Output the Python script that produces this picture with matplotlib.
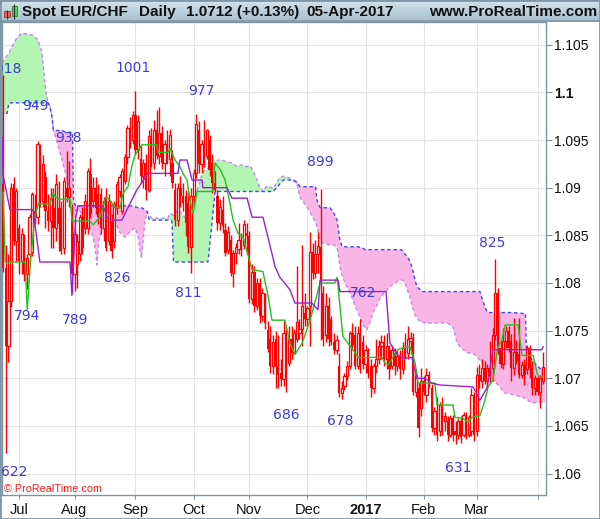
import numpy as np
import pandas as pd
import matplotlib
matplotlib.use('Agg')
import matplotlib.pyplot as plt
from matplotlib.patches import Rectangle
from matplotlib.colors import LinearSegmentedColormap

plt.rcParams['font.family'] = ['Liberation Sans', 'DejaVu Sans']

# daily bars, Spot EUR/CHF
dates = pd.bdate_range('2016-06-23', '2017-04-05')

opens = [1.0904, 1.0816, 1.0734, 1.0781, 1.0904, 1.0844, 1.0858, 1.0823, 1.0837, 1.0809,
         1.0830, 1.0832, 1.0876, 1.0869, 1.0940, 1.0886, 1.0911, 1.0876, 1.0865, 1.0879,
         1.0858, 1.0879, 1.0879, 1.0837, 1.0900, 1.0890, 1.0876, 1.0809, 1.0820, 1.0830,
         1.0869, 1.0858, 1.0858, 1.0914, 1.0886, 1.0900, 1.0893, 1.0893, 1.0858, 1.0890,
         1.0844, 1.0865, 1.0844, 1.0879, 1.0897, 1.0876, 1.0907, 1.0932, 1.0963, 1.0950,
         1.0976, 1.0940, 1.0930, 1.0912, 1.0926, 1.0898, 1.0954, 1.0926, 1.0960, 1.0933,
         1.0957, 1.0926, 1.0946, 1.0930, 1.0926, 1.0898, 1.0866, 1.0900, 1.0891, 1.0891,
         1.0884, 1.0838, 1.0891, 1.0915, 1.0960, 1.0925, 1.0946, 1.0933, 1.0950, 1.0926,
         1.0905, 1.0891, 1.0863, 1.0877, 1.0856, 1.0835, 1.0845, 1.0810, 1.0831, 1.0836,
         1.0845, 1.0840, 1.0852, 1.0849, 1.0783, 1.0812, 1.0776, 1.0800, 1.0765, 1.0785,
         1.0751, 1.0741, 1.0713, 1.0741, 1.0713, 1.0706, 1.0699, 1.0748, 1.0716, 1.0741,
         1.0727, 1.0741, 1.0748, 1.0752, 1.0769, 1.0762, 1.0776, 1.0832, 1.0810, 1.0830,
         1.0838, 1.0790, 1.0745, 1.0776, 1.0762, 1.0738, 1.0730, 1.0713, 1.0685, 1.0692,
         1.0702, 1.0713, 1.0748, 1.0745, 1.0713, 1.0748, 1.0738, 1.0715, 1.0727, 1.0713,
         1.0690, 1.0713, 1.0720, 1.0734, 1.0738, 1.0720, 1.0730, 1.0713, 1.0727, 1.0713,
         1.0723, 1.0710, 1.0732, 1.0727, 1.0739, 1.0742, 1.0686, 1.0690, 1.0669, 1.0697,
         1.0683, 1.0704, 1.0690, 1.0648, 1.0666, 1.0645, 1.0669, 1.0655, 1.0655, 1.0641,
         1.0658, 1.0645, 1.0641, 1.0655, 1.0641, 1.0660, 1.0641, 1.0645, 1.0683, 1.0645,
         1.0704, 1.0697, 1.0711, 1.0697, 1.0711, 1.0711, 1.0745, 1.0790, 1.0732, 1.0715,
         1.0739, 1.0750, 1.0739, 1.0711, 1.0728, 1.0725, 1.0704, 1.0714, 1.0710, 1.0732,
         1.0711, 1.0690, 1.0700, 1.0686, 1.0697]
highs = [1.1018, 1.0840, 1.0830, 1.0905, 1.0911, 1.0900, 1.0862, 1.0858, 1.0851, 1.0830,
         1.0872, 1.0895, 1.0893, 1.0949, 1.0946, 1.0934, 1.0918, 1.0893, 1.0900, 1.0900,
         1.0914, 1.0907, 1.0886, 1.0911, 1.0938, 1.0928, 1.0883, 1.0858, 1.0851, 1.0872,
         1.0880, 1.0893, 1.0921, 1.0931, 1.0911, 1.0911, 1.0904, 1.0900, 1.0890, 1.0900,
         1.0893, 1.0872, 1.0886, 1.0907, 1.0914, 1.0921, 1.0935, 1.0966, 1.0974, 1.0980,
         1.1001, 1.0976, 1.0945, 1.0930, 1.0935, 1.0960, 1.0963, 1.0971, 1.0982, 1.0985,
         1.0965, 1.0950, 1.0960, 1.0962, 1.0940, 1.0905, 1.0905, 1.0912, 1.0905, 1.0898,
         1.0895, 1.0900, 1.0920, 1.0977, 1.0970, 1.0950, 1.0971, 1.0962, 1.0955, 1.0935,
         1.0918, 1.0898, 1.0888, 1.0891, 1.0863, 1.0860, 1.0850, 1.0835, 1.0842, 1.0863,
         1.0852, 1.0866, 1.0863, 1.0855, 1.0820, 1.0818, 1.0805, 1.0805, 1.0795, 1.0790,
         1.0760, 1.0755, 1.0745, 1.0750, 1.0745, 1.0720, 1.0760, 1.0752, 1.0755, 1.0755,
         1.0752, 1.0818, 1.0762, 1.0840, 1.0790, 1.0776, 1.0853, 1.0842, 1.0845, 1.0853,
         1.0899, 1.0797, 1.0790, 1.0785, 1.0765, 1.0748, 1.0745, 1.0727, 1.0697, 1.0706,
         1.0718, 1.0750, 1.0758, 1.0755, 1.0755, 1.0762, 1.0745, 1.0735, 1.0732, 1.0720,
         1.0716, 1.0741, 1.0740, 1.0745, 1.0745, 1.0748, 1.0735, 1.0735, 1.0732, 1.0730,
         1.0730, 1.0738, 1.0748, 1.0755, 1.0749, 1.0748, 1.0710, 1.0695, 1.0711, 1.0702,
         1.0711, 1.0708, 1.0694, 1.0670, 1.0680, 1.0675, 1.0680, 1.0665, 1.0660, 1.0662,
         1.0662, 1.0655, 1.0658, 1.0660, 1.0665, 1.0665, 1.0662, 1.0690, 1.0686, 1.0712,
         1.0715, 1.0720, 1.0718, 1.0715, 1.0739, 1.0753, 1.0825, 1.0795, 1.0740, 1.0753,
         1.0755, 1.0755, 1.0746, 1.0763, 1.0740, 1.0763, 1.0718, 1.0720, 1.0735, 1.0735,
         1.0718, 1.0704, 1.0702, 1.0704, 1.0728]
lows = [1.0812, 1.0622, 1.0717, 1.0775, 1.0840, 1.0823, 1.0809, 1.0809, 1.0802, 1.0794,
        1.0826, 1.0828, 1.0862, 1.0862, 1.0880, 1.0880, 1.0858, 1.0855, 1.0837, 1.0837,
        1.0844, 1.0834, 1.0830, 1.0830, 1.0885, 1.0880, 1.0789, 1.0792, 1.0795, 1.0823,
        1.0830, 1.0851, 1.0851, 1.0868, 1.0880, 1.0872, 1.0862, 1.0851, 1.0844, 1.0834,
        1.0840, 1.0826, 1.0837, 1.0872, 1.0890, 1.0872, 1.0904, 1.0925, 1.0942, 1.0946,
        1.0935, 1.0930, 1.0905, 1.0900, 1.0887, 1.0895, 1.0922, 1.0920, 1.0930, 1.0925,
        1.0920, 1.0912, 1.0925, 1.0912, 1.0900, 1.0860, 1.0860, 1.0880, 1.0876, 1.0849,
        1.0831, 1.0811, 1.0880, 1.0910, 1.0915, 1.0915, 1.0922, 1.0930, 1.0912, 1.0894,
        1.0895, 1.0856, 1.0856, 1.0852, 1.0828, 1.0830, 1.0807, 1.0796, 1.0820, 1.0830,
        1.0828, 1.0836, 1.0830, 1.0779, 1.0778, 1.0770, 1.0772, 1.0758, 1.0760, 1.0752,
        1.0728, 1.0706, 1.0705, 1.0690, 1.0690, 1.0692, 1.0692, 1.0686, 1.0713, 1.0720,
        1.0725, 1.0738, 1.0741, 1.0734, 1.0755, 1.0755, 1.0734, 1.0804, 1.0805, 1.0810,
        1.0740, 1.0734, 1.0738, 1.0734, 1.0735, 1.0725, 1.0725, 1.0680, 1.0678, 1.0688,
        1.0698, 1.0710, 1.0730, 1.0710, 1.0710, 1.0706, 1.0710, 1.0706, 1.0700, 1.0680,
        1.0685, 1.0706, 1.0715, 1.0720, 1.0713, 1.0710, 1.0699, 1.0710, 1.0703, 1.0708,
        1.0699, 1.0705, 1.0720, 1.0720, 1.0725, 1.0682, 1.0680, 1.0638, 1.0660, 1.0683,
        1.0675, 1.0690, 1.0644, 1.0641, 1.0634, 1.0640, 1.0641, 1.0645, 1.0634, 1.0638,
        1.0634, 1.0631, 1.0636, 1.0632, 1.0638, 1.0636, 1.0638, 1.0640, 1.0634, 1.0640,
        1.0690, 1.0690, 1.0694, 1.0692, 1.0695, 1.0697, 1.0740, 1.0725, 1.0711, 1.0710,
        1.0732, 1.0728, 1.0697, 1.0704, 1.0715, 1.0700, 1.0700, 1.0693, 1.0705, 1.0700,
        1.0683, 1.0683, 1.0683, 1.0669, 1.0694]
closes = [1.0816, 1.0734, 1.0781, 1.0900, 1.0844, 1.0897, 1.0823, 1.0851, 1.0809, 1.0826,
          1.0869, 1.0893, 1.0869, 1.0946, 1.0886, 1.0925, 1.0876, 1.0865, 1.0889, 1.0858,
          1.0904, 1.0862, 1.0834, 1.0907, 1.0890, 1.0900, 1.0809, 1.0851, 1.0844, 1.0869,
          1.0837, 1.0886, 1.0918, 1.0872, 1.0900, 1.0879, 1.0869, 1.0858, 1.0886, 1.0837,
          1.0886, 1.0834, 1.0883, 1.0904, 1.0911, 1.0918, 1.0932, 1.0963, 1.0946, 1.0976,
          1.0940, 1.0970, 1.0912, 1.0926, 1.0898, 1.0954, 1.0926, 1.0960, 1.0933, 1.0957,
          1.0926, 1.0946, 1.0930, 1.0955, 1.0905, 1.0866, 1.0900, 1.0891, 1.0884, 1.0863,
          1.0838, 1.0891, 1.0915, 1.0967, 1.0925, 1.0946, 1.0926, 1.0960, 1.0919, 1.0905,
          1.0898, 1.0863, 1.0880, 1.0860, 1.0831, 1.0853, 1.0810, 1.0831, 1.0838, 1.0845,
          1.0835, 1.0862, 1.0849, 1.0783, 1.0812, 1.0776, 1.0800, 1.0765, 1.0790, 1.0758,
          1.0731, 1.0713, 1.0738, 1.0713, 1.0703, 1.0699, 1.0748, 1.0716, 1.0741, 1.0727,
          1.0748, 1.0759, 1.0752, 1.0776, 1.0762, 1.0774, 1.0832, 1.0810, 1.0830, 1.0839,
          1.0800, 1.0741, 1.0776, 1.0741, 1.0738, 1.0730, 1.0740, 1.0685, 1.0690, 1.0702,
          1.0713, 1.0748, 1.0735, 1.0713, 1.0748, 1.0730, 1.0715, 1.0730, 1.0706, 1.0690,
          1.0713, 1.0720, 1.0734, 1.0738, 1.0720, 1.0734, 1.0710, 1.0730, 1.0713, 1.0723,
          1.0710, 1.0732, 1.0727, 1.0741, 1.0742, 1.0686, 1.0704, 1.0648, 1.0697, 1.0686,
          1.0704, 1.0694, 1.0648, 1.0666, 1.0641, 1.0672, 1.0655, 1.0660, 1.0641, 1.0658,
          1.0641, 1.0641, 1.0655, 1.0638, 1.0662, 1.0641, 1.0659, 1.0683, 1.0641, 1.0704,
          1.0697, 1.0711, 1.0697, 1.0711, 1.0702, 1.0745, 1.0790, 1.0732, 1.0715, 1.0739,
          1.0750, 1.0732, 1.0711, 1.0728, 1.0718, 1.0704, 1.0714, 1.0704, 1.0732, 1.0711,
          1.0690, 1.0700, 1.0686, 1.0700, 1.0712]

# Tenkan-sen (green), vertices (bar index, price)
tenkan_x = [0.0, 0.8, 8.3, 9.1, 10.4, 12.0, 13.3, 17.7, 18.8, 20.0, 21.5, 25.3, 26.0, 32.8,
            34.0, 36.6, 38.9, 40.4, 42.3, 44.2, 45.3, 47.2, 48.6, 49.8, 52.5, 58.2, 58.5,
            62.3, 63.1, 65.0, 66.8, 68.0, 69.5, 70.6, 71.8, 73.3, 79.3, 80.1, 82.0, 83.9,
            85.7, 86.9, 88.8, 90.7, 94.1, 98.2, 99.0, 100.1, 101.6, 106.5, 108.4, 110.3,
            111.4, 113.0, 114.8, 116.0, 119.8, 125.4, 126.2, 126.6, 128.4, 130.3, 132.2,
            134.1, 143.2, 144.3, 145.5, 147.3, 149.2, 151.1, 153.8, 155.7, 156.8, 163.2,
            164.0, 170.0, 170.8, 173.8, 175.7, 177.2, 180.2, 182.1, 183.3, 185.1, 187.0,
            188.5, 189.7, 194.6, 196.1, 200.3, 201.8, 202.9, 204.1]
tenkan_y = [1.0895, 1.0822, 1.0822, 1.0772, 1.0824, 1.0869, 1.0883, 1.0883, 1.0894, 1.0890,
            1.0888, 1.0888, 1.0865, 1.0865, 1.0861, 1.0869, 1.0890, 1.0887, 1.0879, 1.0879,
            1.0894, 1.0901, 1.0922, 1.0934, 1.0945, 1.0945, 1.0937, 1.0937, 1.0941, 1.0929,
            1.0922, 1.0915, 1.0908, 1.0887, 1.0873, 1.0896, 1.0896, 1.0926, 1.0919, 1.0908,
            1.0884, 1.0866, 1.0852, 1.0848, 1.0814, 1.0812, 1.0801, 1.0787, 1.0761, 1.0761,
            1.0737, 1.0725, 1.0730, 1.0737, 1.0751, 1.0761, 1.0800, 1.0800, 1.0806, 1.0796,
            1.0744, 1.0737, 1.0730, 1.0722, 1.0722, 1.0716, 1.0714, 1.0722, 1.0730, 1.0732,
            1.0733, 1.0716, 1.0695, 1.0695, 1.0672, 1.0672, 1.0659, 1.0658, 1.0654, 1.0659,
            1.0661, 1.0677, 1.0691, 1.0698, 1.0733, 1.0740, 1.0756, 1.0756, 1.0724, 1.0724,
            1.0705, 1.0701, 1.0701]

# Kijun-sen (purple)
kijun_x = [-0.4, 0.0, 2.6, 11.3, 13.9, 25.3, 26.0, 27.5, 28.3, 37.8, 39.3, 41.5, 44.9,
           46.8, 50.6, 54.8, 66.1, 66.8, 69.5, 71.4, 75.2, 75.5, 84.6, 86.5, 92.2, 94.1,
           98.2, 100.1, 102.8, 104.6, 108.4, 110.3, 116.7, 119.0, 119.8, 126.6, 127.3,
           144.7, 146.2, 148.9, 151.1, 154.5, 156.4, 159.4, 162.1, 165.1, 177.6, 180.2,
           182.9, 185.1, 203.5, 204.1]
kijun_y = [1.0953, 1.0913, 1.0877, 1.0877, 1.0822, 1.0822, 1.0787, 1.0869, 1.0881, 1.0881,
           1.0869, 1.0866, 1.0866, 1.0877, 1.0898, 1.0915, 1.0915, 1.0929, 1.0929, 1.0908,
           1.0908, 1.0900, 1.0900, 1.0889, 1.0889, 1.0869, 1.0869, 1.0848, 1.0817, 1.0806,
           1.0793, 1.0779, 1.0779, 1.0772, 1.0803, 1.0803, 1.0791, 1.0791, 1.0737, 1.0725,
           1.0721, 1.0722, 1.0700, 1.0700, 1.0695, 1.0693, 1.0691, 1.0677, 1.0690, 1.0730,
           1.0730, 1.0733]

# Ichimoku cloud: Senkou span A and span B on a shared set of bar positions
cloud_x = [-1.2, -0.05, 1.5, 2.2, 4.1, 5.2, 7.1, 9.4, 11.3, 13.2, 14.7, 15.3, 16.2, 17.0,
           17.7, 18.5, 19.0, 19.6, 20.7, 22.3, 23.8, 24.9, 25.7, 26.2, 26.6, 27.0, 27.5,
           29.1, 30.9, 32.8, 34.0, 34.7, 35.5, 36.2, 37.0, 38.5, 40.4, 42.3, 44.2, 46.1,
           48.0, 49.8, 51.0, 51.7, 52.3, 52.9, 53.6, 54.4, 55.1, 56.3, 62.3, 63.1, 63.8,
           64.4, 66.1, 68.7, 70.6, 72.5, 73.7, 75.5, 77.4, 78.8, 80.1, 81.2, 82.7, 84.6,
           86.5, 88.4, 90.3, 92.2, 93.3, 94.4, 96.0, 97.1, 98.2, 99.7, 102.0, 103.5, 104.6,
           105.8, 107.3, 108.4, 109.6, 111.1, 112.2, 114.8, 117.1, 118.1, 118.6, 119.8,
           120.9, 123.5, 124.7, 126.2, 127.3, 128.1, 129.2, 131.1, 132.2, 134.1, 135.6,
           136.8, 137.5, 138.7, 139.8, 141.3, 142.4, 145.1, 147.4, 150.0, 151.1, 151.9,
           153.0, 153.8, 154.5, 155.7, 156.4, 157.6, 158.3, 160.2, 167.8, 170.0, 171.5,
           172.7, 175.3, 178.3, 180.2, 181.4, 182.5, 183.3, 185.2, 187.8, 189.3, 192.7,
           196.5, 197.4, 197.8, 199.9, 202.2, 204.8]
span_a = [1.1018, 1.1032, 1.1039, 1.1041, 1.1052, 1.1057, 1.1062, 1.1061, 1.1060, 1.1055,
          1.1041, 1.1024, 1.1000, 1.0989, 1.0985, 1.0973, 1.0958, 1.0955, 1.0945, 1.0929,
          1.0913, 1.0898, 1.0887, 1.0866, 1.0845, 1.0838, 1.0877, 1.0875, 1.0868, 1.0858,
          1.0848, 1.0838, 1.0819, 1.0845, 1.0853, 1.0861, 1.0869, 1.0864, 1.0853, 1.0848,
          1.0854, 1.0858, 1.0850, 1.0835, 1.0826, 1.0845, 1.0864, 1.0875, 1.0871, 1.0868,
          1.0868, 1.0873, 1.0872, 1.0871, 1.0877, 1.0869, 1.0879, 1.0892, 1.0900, 1.0917,
          1.0920, 1.0922, 1.0926, 1.0929, 1.0929, 1.0927, 1.0926, 1.0922, 1.0924, 1.0922,
          1.0923, 1.0918, 1.0908, 1.0899, 1.0896, 1.0902, 1.0899, 1.0906, 1.0911, 1.0912,
          1.0911, 1.0910, 1.0908, 1.0903, 1.0890, 1.0880, 1.0869, 1.0864, 1.0859, 1.0845,
          1.0842, 1.0840, 1.0840, 1.0838, 1.0817, 1.0808, 1.0800, 1.0790, 1.0782, 1.0769,
          1.0759, 1.0753, 1.0751, 1.0759, 1.0769, 1.0777, 1.0784, 1.0793, 1.0799, 1.0803,
          1.0803, 1.0800, 1.0791, 1.0785, 1.0777, 1.0766, 1.0764, 1.0759, 1.0759, 1.0758,
          1.0758, 1.0754, 1.0738, 1.0733, 1.0727, 1.0725, 1.0719, 1.0714, 1.0709, 1.0706,
          1.0698, 1.0691, 1.0685, 1.0683, 1.0680, 1.0679, 1.0678, 1.0674, 1.0675, 1.0675]
span_b = [1.0976, 1.0977, 1.0978, 1.0989, 1.0989, 1.0989, 1.0989, 1.0989, 1.0989, 1.0989,
          1.0989, 1.0989, 1.0989, 1.0989, 1.0985, 1.0974, 1.0961, 1.0960, 1.0960, 1.0960,
          1.0958, 1.0958, 1.0958, 1.0958, 1.0887, 1.0883, 1.0881, 1.0881, 1.0881, 1.0881,
          1.0881, 1.0881, 1.0881, 1.0881, 1.0881, 1.0881, 1.0881, 1.0881, 1.0881, 1.0881,
          1.0881, 1.0880, 1.0879, 1.0879, 1.0879, 1.0878, 1.0877, 1.0875, 1.0867, 1.0866,
          1.0866, 1.0866, 1.0865, 1.0822, 1.0822, 1.0822, 1.0822, 1.0822, 1.0822, 1.0822,
          1.0822, 1.0859, 1.0896, 1.0896, 1.0896, 1.0896, 1.0896, 1.0896, 1.0896, 1.0896,
          1.0896, 1.0896, 1.0896, 1.0896, 1.0896, 1.0896, 1.0896, 1.0900, 1.0904, 1.0908,
          1.0908, 1.0908, 1.0908, 1.0906, 1.0901, 1.0901, 1.0901, 1.0901, 1.0887, 1.0879,
          1.0879, 1.0879, 1.0875, 1.0866, 1.0845, 1.0838, 1.0838, 1.0838, 1.0838, 1.0838,
          1.0837, 1.0835, 1.0835, 1.0835, 1.0835, 1.0835, 1.0835, 1.0835, 1.0835, 1.0835,
          1.0834, 1.0830, 1.0827, 1.0822, 1.0817, 1.0803, 1.0796, 1.0793, 1.0791, 1.0791,
          1.0791, 1.0791, 1.0791, 1.0791, 1.0791, 1.0791, 1.0791, 1.0780, 1.0772, 1.0769,
          1.0769, 1.0769, 1.0769, 1.0769, 1.0768, 1.0768, 1.0730, 1.0719, 1.0712, 1.0707]

# swing high / low labels (text, bar position, price of label centre)
swing_text = ['1018', '949', '938', '794', '789', '826', '1001', '977', '811',
              '899', '686', '678', '762', '631', '825', '622']
swing_x = [0.3, 12.1, 24.5, 9.2, 27.4, 43.2, 49.2, 75.0, 70.0,
           119.9, 107.2, 127.6, 135.9, 172.0, 184.9, 4.1]
swing_y = [1.1025, 1.0986, 1.0952, 1.0765, 1.0761, 1.0805, 1.1026, 1.1001, 1.0789,
           1.0927, 1.0662, 1.0655, 1.0790, 1.0606, 1.0842, 1.0602]

y_ticks = [1.06, 1.065, 1.07, 1.075, 1.08, 1.085, 1.09, 1.095, 1.1, 1.105]
month_names = ['Jul', 'Aug', 'Sep', 'Oct', 'Nov', 'Dec', '2017', 'Feb', 'Mar', '']

W, H = 600, 519
fig = plt.figure(figsize=(W / 100, H / 100), dpi=100)
ax = fig.add_axes([2 / W, 24 / H, 544 / W, 473 / H])

o = np.array(opens); h = np.array(highs); l = np.array(lows); c = np.array(closes)
x = np.arange(len(dates))

# cloud
cx = np.array(cloud_x); sa = np.array(span_a); sb = np.array(span_b)
ax.fill_between(cx, sa, sb, where=sa >= sb, interpolate=True, color='#b3f5b3', lw=0, zorder=1)
ax.fill_between(cx, sa, sb, where=sa < sb, interpolate=True, color='#f9b5e6', lw=0, zorder=1)
ax.plot(cx, sa, color='#c983f0', lw=1.0, ls=(0, (2.5, 2)), zorder=2)
ax.plot(cx, sb, color='#4048f0', lw=1.0, ls=(0, (2.5, 2)), zorder=2)

# candles
red = '#ff0000'
up = c >= o
ax.vlines(x, l, h, color=red, lw=1.0, zorder=3)
ax.bar(x[up], (c - o)[up], bottom=o[up], width=0.85, facecolor='white',
       edgecolor=red, lw=0.9, zorder=4)
ax.bar(x[~up], (o - c)[~up], bottom=c[~up], width=0.85, color=red, lw=0, zorder=4)

ax.plot(tenkan_x, tenkan_y, color='#1ec31e', lw=1.0, zorder=5)
ax.plot(kijun_x, kijun_y, color='#9a20d0', lw=1.0, zorder=5)

for t, sx, sy in zip(swing_text, swing_x, swing_y):
    ax.text(sx, sy, t, color='#3c3cd8', fontsize=10, family='DejaVu Sans',
            ha='center', va='center', clip_on=True, zorder=6)

ax.text(0.003, 0.013, '\u00a9 ProRealTime.com', transform=ax.transAxes, color='#ff1a1a',
        fontsize=7.8, ha='left', va='center', zorder=6)

ax.set_xlim(-0.42, 205.17)
ax.set_ylim(1.05776, 1.10738)

month_pos = [i for i in range(1, len(dates)) if dates[i].month != dates[i - 1].month]
ax.set_xticks(month_pos)
ax.set_xticklabels(month_names)
ax.yaxis.tick_right()
ax.set_yticks(y_ticks)
ax.set_yticklabels([f'{v:g}' for v in y_ticks])
for lab in ax.get_yticklabels():
    if lab.get_text() == '1.1':
        lab.set_fontweight('bold')
for lab in ax.get_xticklabels():
    if lab.get_text() == '2017':
        lab.set_fontweight('bold')
        lab.set_fontsize(11.5)

ax.grid(True, color='#e3e3e3', lw=0.8, zorder=0)
ax.set_axisbelow(True)
frame = '#7f95a5'
for s in ax.spines.values():
    s.set_color(frame)
    s.set_linewidth(1.0)
ax.tick_params(axis='x', length=3, width=0.8, color=frame, pad=3, labelsize=10.5,
               labelcolor='#111111')
ax.tick_params(axis='y', length=4, width=0.8, color=frame, pad=2, labelsize=10,
               labelcolor='#111111')

# title bar
hax = fig.add_axes([0, 1 - 22 / H, 1, 22 / H])
grad = np.linspace(0, 1, 22)[:, None]
hax.imshow(grad, extent=(0, W, 22, 0), aspect='auto',
           cmap=LinearSegmentedColormap.from_list('hdr', ['#d4e2eb', '#a6bece']))
hax.set_xlim(0, W)
hax.set_ylim(22, 0)
hax.axis('off')
hax.plot([0, W], [21.5, 21.5], color=frame, lw=1.2)
hax.vlines([6.7, 14.3], [10, 4], [19, 19], color='#333333', lw=0.8)
hax.add_patch(Rectangle((4, 11.5), 5.5, 6, facecolor='#f06060', edgecolor='#a03030', lw=0.6))
hax.add_patch(Rectangle((11.5, 6), 5.5, 10.5, facecolor='#40e040', edgecolor='#208020', lw=0.6))
hdr = dict(fontsize=11, fontweight='bold', va='center', color='#111111')
hax.text(22, 12, 'Spot EUR/CHF', ha='left', **hdr)
hax.text(139, 12, 'Daily', ha='left', **hdr)
hax.text(186, 12, '1.0712 (+0.13%)', ha='left', **hdr)
hax.text(306, 12, '05-Apr-2017', ha='left', **hdr)
hax.text(597, 12, 'www.ProRealTime.com', ha='right', **hdr)

fig.patches.append(Rectangle((0, 0), 1, 1, transform=fig.transFigure, fill=False,
                             edgecolor=frame, lw=2.0))

fig.savefig('out.png', dpi=100)
